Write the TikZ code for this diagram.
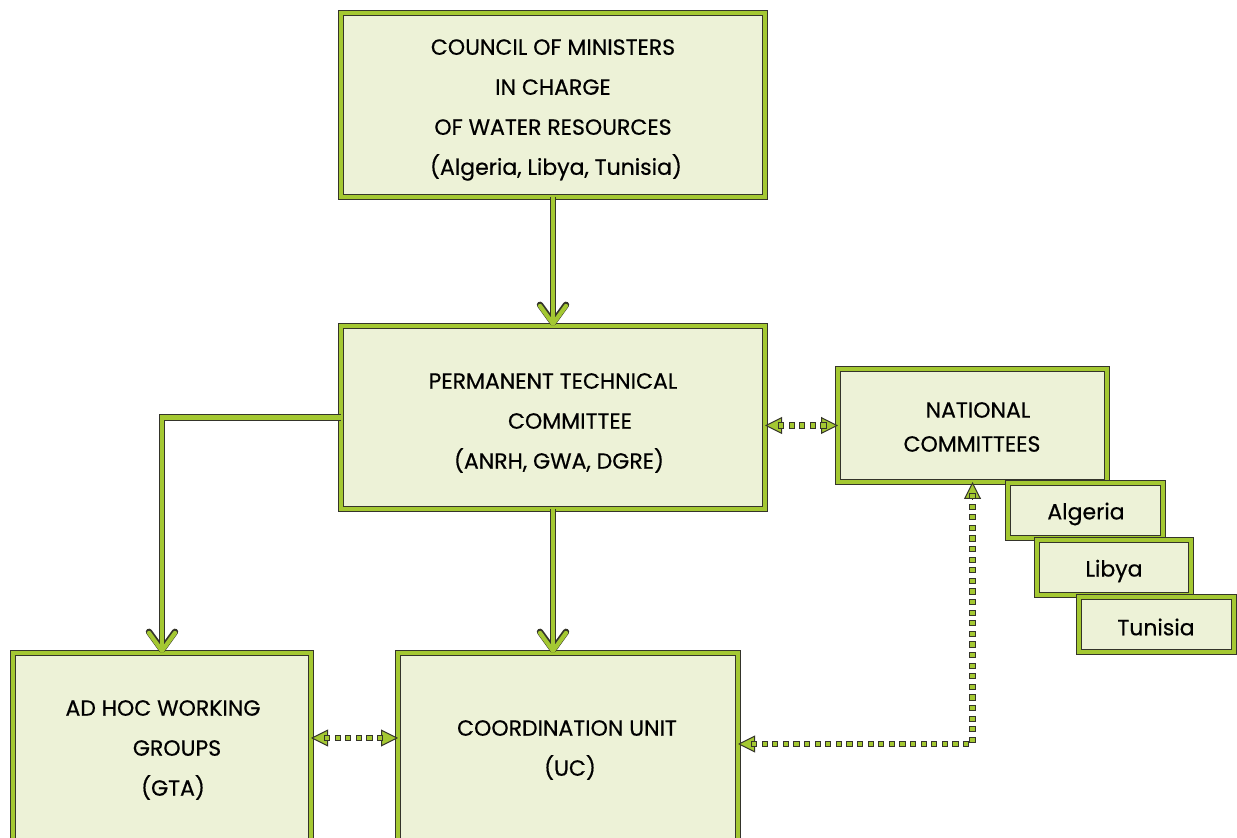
\documentclass[tikz,border=0pt]{standalone}
\usepackage{fontspec}
\setmainfont{Poppins}[UprightFeatures={FakeBold=0.5}]
\usetikzlibrary{arrows.meta,calc,fit,decorations.markings}
\definecolor{lgreen}{HTML}{A4C832}
\definecolor{pale}{HTML}{EDF2D7}
\definecolor{dark}{HTML}{34342A}
\newcommand\casedline[1]{\draw[casing] #1; \draw[core] #1;}
\begin{document}
\begin{tikzpicture}[x=0.5pt,y=-0.5pt,
  box/.style={draw=dark, line width=0.55pt, double=lgreen, double distance=2.1pt, fill=pale, inner sep=0pt, outer sep=0pt},
  txt/.style={font=\fontsize{11}{20}\selectfont, align=center, text=black, inner sep=0pt},
  casing/.style={draw=dark, line width=3.2pt, -{Straight Barb[length=9pt,width=13pt,round]}},
  core/.style={draw=lgreen, line width=2.1pt, -{Straight Barb[length=9pt,width=13pt,round]}},
  sq/.style={draw=dark, line width=0.45pt, fill=lgreen, minimum size=2.6pt, inner sep=0pt},
  sqline/.style={decorate, decoration={markings, mark=between positions 8pt and -7pt step 5.3pt with {\node[sq]{};}}},
  tipa/.style={draw=dark, line width=0.5pt, -{Triangle[length=8.5pt,width=8.5pt,fill=lgreen]}}
]
\clip (0,0) rectangle (1237,838);
% boxes
\node[box, fit={(341,13) (765,197)}] (council) {};
\node[box, fit={(341,326) (765,509)}] (ptc) {};
\node[box, fit={(838,369) (1107,482)}] (nc) {};
\node[box, fit={(1008,483) (1163,538)}] (alg) {};
\node[box, fit={(1037,540) (1191,595)}] (lib) {};
\node[box, fit={(1079,597) (1234,652)}] (tun) {};
\node[box, fit={(13,653) (311,870)}] (adhoc) {};
\node[box, fit={(398,653) (738,870)}] (coord) {};
% texts
\node[txt] (tcouncil) at (553,110) {COUNCIL OF MINISTERS\\IN CHARGE\\OF WATER RESOURCES\\\hspace*{3pt}(Algeria, Libya, Tunisia)};
\node[txt] (tptc) at (553,423) {PERMANENT TECHNICAL\\\hspace*{17pt}COMMITTEE\\\hspace*{6pt}(ANRH, GWA, DGRE)};
\node[txt, font=\fontsize{11}{17}\selectfont] (tnc) at (972,427) {\hspace*{6pt}NATIONAL\\COMMITTEES};
\node[txt] (talg) at (1086,514) {Algeria};
\node[txt] (tlib) at (1114,571) {Libya};
\node[txt] (ttun) at (1156,627) {Tunisia};
\node[txt] (tadhoc) at (163,750) {AD HOC WORKING\\\hspace*{14pt}GROUPS\\\hspace*{10pt}(GTA)};
\node[txt] (tcoord) at (567,750) {COORDINATION UNIT\\\hspace*{3pt}(UC)};
% solid connectors
\casedline{(council.south) -- (ptc.north)}
\casedline{(ptc.south) -- (ptc.south |- coord.north)}
\casedline{(ptc.west) -| (adhoc.north)}
% dotted connectors
\coordinate (m1) at (0,738);
\coordinate (m2) at (0,744);
\coordinate (d1a) at (nc.west -| ptc.east);
\coordinate (d2a) at (adhoc.east |- m1);
\coordinate (d2b) at (coord.west |- m1);
\coordinate (d3a) at (coord.east |- m2);
\draw[tipa] ($(d1a)+(17,0)$) -- (d1a);
\draw[tipa] ($(nc.west)+(-17,0)$) -- (nc.west);
\draw[tipa] ($(d2a)+(17,0)$) -- (d2a);
\draw[tipa] ($(d2b)+(-17,0)$) -- (d2b);
\draw[tipa] ($(d3a)+(17,0)$) -- (d3a);
\draw[tipa] ($(nc.south)+(0,17)$) -- (nc.south);
\path[sqline] (d1a) -- (nc.west);
\path[sqline] (d2a) -- (d2b);
\path[sqline] (d3a) -| (nc.south);
\end{tikzpicture}
\end{document}
